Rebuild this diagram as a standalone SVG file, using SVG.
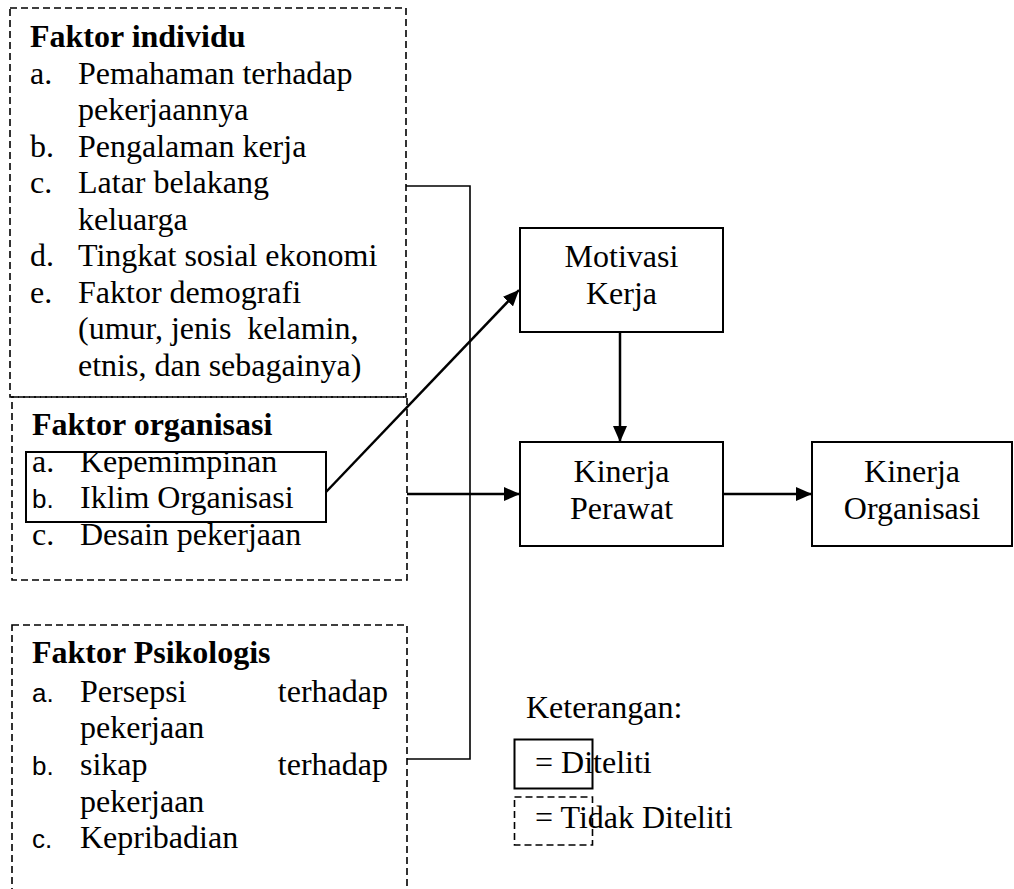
<svg xmlns="http://www.w3.org/2000/svg" width="1014" height="889" viewBox="0 0 1014 889">
<defs>
<style>
.t{font-family:"Liberation Serif","Times New Roman",serif;font-size:32px;fill:#000}
.b{font-weight:bold}
.s{font-family:"Liberation Sans",Arial,sans-serif;font-size:26px;fill:#000}
.dash{fill:none;stroke:#000;stroke-width:1.6;stroke-dasharray:7 4}
.solid{fill:#fff;stroke:#000;stroke-width:2}
.thin{fill:none;stroke:#000;stroke-width:1.6}
.arr{fill:none;stroke:#000;stroke-width:2.5;marker-end:url(#ah)}
</style>
<marker id="ah" markerUnits="userSpaceOnUse" markerWidth="16" markerHeight="14" viewBox="0 0 16 14" refX="16" refY="7" orient="auto">
<path d="M0,0 L16,7 L0,14 z" fill="#000"/>
</marker>
</defs>
<rect width="1014" height="889" fill="#fff"/>

<g id="faktor-individu">
<rect class="dash" x="10" y="8" width="396" height="389"/>
<text class="t b" x="30" y="47">Faktor individu</text>
<text class="t" x="30" y="83.5">a.</text><text class="t" x="78" y="83.5">Pemahaman terhadap</text>
<text class="t" x="78" y="120">pekerjaannya</text>
<text class="t" x="30" y="156.5">b.</text><text class="t" x="78" y="156.5">Pengalaman kerja</text>
<text class="t" x="30" y="193">c.</text><text class="t" x="78" y="193">Latar belakang</text>
<text class="t" x="78" y="229.5">keluarga</text>
<text class="t" x="30" y="266">d.</text><text class="t" x="78" y="266">Tingkat sosial ekonomi</text>
<text class="t" x="30" y="302.5">e.</text><text class="t" x="78" y="302.5">Faktor demografi</text>
<text class="t" x="78" y="339" xml:space="preserve">(umur, jenis  kelamin,</text>
<text class="t" x="78" y="375.5">etnis, dan sebagainya)</text>
</g>

<g id="faktor-organisasi">
<rect class="dash" x="12" y="397" width="395" height="183"/>
<rect x="26" y="452" width="300" height="70" fill="none" stroke="#000" stroke-width="2"/>
<text class="t b" x="32" y="435">Faktor organisasi</text>
<text class="t" x="32" y="471.5">a.</text><text class="t" x="80" y="471.5">Kepemimpinan</text>
<text class="s" x="32" y="508">b.</text><text class="t" x="80" y="508">Iklim Organisasi</text>
<text class="t" x="32" y="545">c.</text><text class="t" x="80" y="545">Desain pekerjaan</text>
</g>

<g id="faktor-psikologis">
<rect class="dash" x="12" y="625" width="395" height="290"/>
<text class="t b" x="32" y="663">Faktor Psikologis</text>
<text class="s" x="32" y="701.5">a.</text><text class="t" x="80" y="701.5">Persepsi</text><text class="t" x="388" y="701.5" text-anchor="end">terhadap</text>
<text class="t" x="80" y="738">pekerjaan</text>
<text class="s" x="32" y="775">b.</text><text class="t" x="80" y="775">sikap</text><text class="t" x="388" y="775" text-anchor="end">terhadap</text>
<text class="t" x="80" y="811.5">pekerjaan</text>
<text class="s" x="32" y="848">c.</text><text class="t" x="80" y="848">Kepribadian</text>
</g>

<g id="connectors">
<path class="thin" d="M406,186 H470 V759 H407"/>
<line class="arr" x1="407" y1="494" x2="520" y2="494"/>
<line class="arr" x1="326" y1="492" x2="519" y2="290"/>
<line class="arr" x1="620" y1="332" x2="620" y2="442"/>
<line class="arr" x1="723" y1="494" x2="812" y2="494"/>
</g>

<g id="motivasi-kerja">
<rect class="solid" x="520" y="228" width="203" height="104"/>
<text class="t" x="621.5" y="267" text-anchor="middle">Motivasi</text>
<text class="t" x="621.5" y="304" text-anchor="middle">Kerja</text>
</g>

<g id="kinerja-perawat">
<rect class="solid" x="520" y="442" width="203" height="104"/>
<text class="t" x="621.5" y="482" text-anchor="middle">Kinerja</text>
<text class="t" x="621.5" y="518.5" text-anchor="middle">Perawat</text>
</g>

<g id="kinerja-organisasi">
<rect class="solid" x="812" y="442" width="200" height="104"/>
<text class="t" x="912" y="482" text-anchor="middle">Kinerja</text>
<text class="t" x="912" y="518.5" text-anchor="middle">Organisasi</text>
</g>

<g id="keterangan">
<text class="t" x="526" y="718">Keterangan:</text>
<rect x="514.5" y="739.5" width="78" height="49" fill="none" stroke="#000" stroke-width="2"/>
<text class="t" x="535" y="773">= Diteliti</text>
<rect class="dash" x="514.5" y="797" width="78" height="48"/>
<text class="t" x="535" y="828">= Tidak Diteliti</text>
</g>
</svg>
